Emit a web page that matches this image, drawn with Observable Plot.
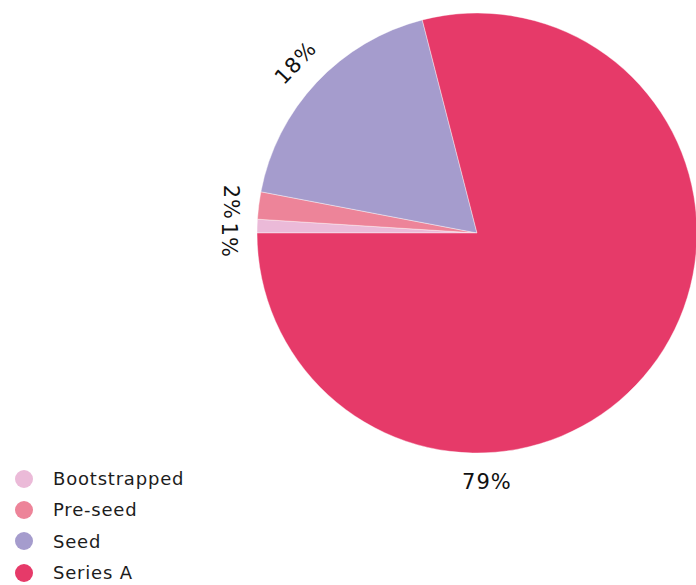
<!DOCTYPE html>
<html>
<head>
<meta charset="utf-8">
<script src="https://cdn.jsdelivr.net/npm/d3@7"></script>
<script src="https://cdn.jsdelivr.net/npm/@observablehq/plot@0.6"></script>
<style>
  html, body { margin: 0; padding: 0; background: #fff; }
  #wrap { position: relative; width: 696px; height: 585px; overflow: hidden; font-family: "DejaVu Sans", sans-serif; }
  #wrap svg { position: absolute; left: 0; top: 0; overflow: visible; }
  #legend { position: absolute; left: 15px; top: 463px; }
  .row { display: flex; align-items: center; height: 31.3px; font-size: 18px; letter-spacing: 0.8px; color: #1c1c1c; }
  .sw { width: 18px; height: 18px; border-radius: 50%; margin-right: 20px; }
</style>
</head>
<body>
<div id="wrap"></div>
<script>
const categories = ["Bootstrapped", "Pre-seed", "Seed", "Series A"];
const values = [1, 2, 18, 79];
const colors = ["#ebbad8", "#ed8499", "#a59ccd", "#e63a69"];

const data = categories.map((c, i) => ({category: c, value: values[i]}));
const total = d3.sum(values);

const arcs = d3.pie().sort(null).value(d => d.value)
  .startAngle(-Math.PI / 2).endAngle(3 * Math.PI / 2)(data);

// label angles: mid-angle; the dominant slice is labelled near the bottom
const labelR = 1.132;
const minSep = 38 / 249;
const ang = arcs.map(a => (a.endAngle - a.startAngle > Math.PI) ? Math.PI * 0.988 : (a.startAngle + a.endAngle) / 2);
for (let i = ang.length - 2; i >= 0; i--) {
  if (ang[i + 1] - ang[i] < minSep) ang[i] = ang[i + 1] - minSep;
}
const labels = arcs.map((a, i) => {
  let rot = ang[i] * 180 / Math.PI;
  while (rot > 90) rot -= 180;
  while (rot <= -90) rot += 180;
  if (Math.abs(rot) > 75) rot = 90;
  if (Math.abs(rot) < 5) rot = 0;
  return {
    x: labelR * Math.sin(ang[i]),
    y: labelR * Math.cos(ang[i]),
    text: Math.round(a.data.value / total * 100) + "%",
    rotate: rot
  };
});

function pieMark(index, scales, values, dimensions) {
  const cx = scales.x(0), cy = scales.y(0);
  const r = scales.x(1) - scales.x(0);
  const arc = d3.arc().innerRadius(0).outerRadius(r);
  const g = d3.create("svg:g").attr("transform", `translate(${cx},${cy})`);
  g.selectAll("path").data(arcs).join("path")
    .attr("d", arc)
    .attr("fill", (d, i) => colors[i])
    .attr("stroke", "#fff")
    .attr("stroke-width", 0.4);
  return g.node();
}

const chart = Plot.plot({
  width: 696,
  height: 585,
  marginLeft: 257,
  marginRight: -1,
  marginTop: 13,
  marginBottom: 132,
  x: {domain: [-1, 1], axis: null},
  y: {domain: [-1, 1], axis: null},
  style: {fontFamily: "DejaVu Sans, sans-serif", background: "transparent", overflow: "visible"},
  marks: [
    pieMark,
    Plot.text(labels, {
      x: "x", y: "y", text: "text", rotate: "rotate",
      fontSize: 21, fill: "#111", textAnchor: "middle", lineAnchor: "middle",
      style: "letter-spacing: 1px"
    })
  ]
});

const wrap = document.getElementById("wrap");
wrap.appendChild(chart);
chart.querySelectorAll("text").forEach(t => t.setAttribute("letter-spacing", "1"));

const legend = document.createElement("div");
legend.id = "legend";
categories.forEach((c, i) => {
  const row = document.createElement("div");
  row.className = "row";
  const sw = document.createElement("span");
  sw.className = "sw";
  sw.style.background = colors[i];
  const t = document.createElement("span");
  t.textContent = c;
  row.appendChild(sw);
  row.appendChild(t);
  legend.appendChild(row);
});
wrap.appendChild(legend);
</script>
</body>
</html>
